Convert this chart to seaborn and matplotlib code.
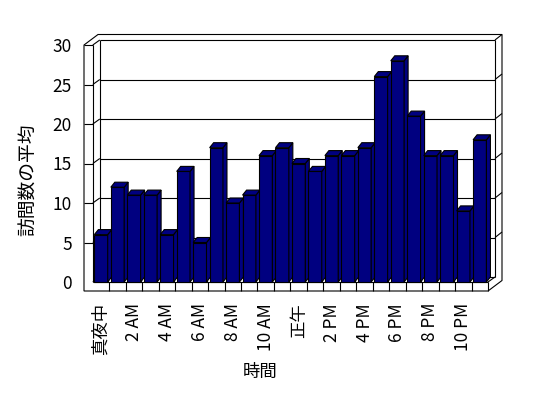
import matplotlib
matplotlib.use("Agg")
import matplotlib.pyplot as plt
import seaborn as sns
import pandas as pd
from matplotlib.patches import Polygon
from matplotlib.lines import Line2D

# ---- data ----
hours = ["真夜中", "1 AM", "2 AM", "3 AM", "4 AM", "5 AM", "6 AM", "7 AM",
         "8 AM", "9 AM", "10 AM", "11 AM", "正午", "1 PM", "2 PM", "3 PM",
         "4 PM", "5 PM", "6 PM", "7 PM", "8 PM", "9 PM", "10 PM", "11 PM"]
visits = [6, 12, 11, 11, 6, 14, 5, 17, 10, 11, 16, 17,
          15, 14, 16, 16, 17, 26, 28, 21, 16, 16, 9, 18]
yticks = [0, 5, 10, 15, 20, 25, 30]
xlabel = "時間"
ylabel = "訪問数の平均"

sns.set_theme(style="white")
plt.rcParams['font.family'] = ['Noto Sans CJK JP', 'DejaVu Sans']

W, H = 548, 398
fig = plt.figure(figsize=(W / 100, H / 100), dpi=100)
fig.patch.set_facecolor("white")

# axes box (pixels)
L, R, T, B = 84, 510, 30, 291
ax = fig.add_axes([L / W, 1 - B / H, (R - L) / W, (B - T) / H])
ax.set_facecolor("none")

df = pd.DataFrame({"hour": hours, "visits": visits})
navy = "#000080"
lw = 0.8
sns.barplot(data=df, x="hour", y="visits", order=hours, color=navy,
            saturation=1, width=0.81, edgecolor="black", linewidth=lw, ax=ax)
bars = list(ax.patches)

n = len(hours)
front_left_px, front_right_px, zero_px = 92.8, 488.0, 282.0
sx = (front_right_px - front_left_px) / n
sy = (zero_px - 45.0) / yticks[-1]
x0, x1 = -0.5, n - 0.5
ymax = yticks[-1]

tw = 8.8 / sx          # left wall thickness
tf = 9.0 / sy          # floor thickness
dxw, dyw = 7.0 / sx, 5.0 / sy     # depth to back wall face
dxo, dyo = 14.0 / sx, 10.5 / sy   # depth to outer back
dxb, dyb = 4.0 / sx, 5.0 / sy     # bar depth

ax.set_xlim(x0 - tw, x0 + (R - front_left_px) / sx)
ax.set_ylim(-(B - zero_px) / sy, (zero_px - T) / sy)

# ---- walls / floor ----
outer = Polygon([(x0 - tw, -tf), (x0 - tw, ymax), (x0 - tw + dxo, ymax + dyo),
                 (x1 + dxo, ymax + dyo), (x1 + dxo, -tf + dyo), (x1, -tf)],
                closed=True, facecolor="white", edgecolor="black", lw=lw,
                zorder=0.2, clip_on=False)
ax.add_patch(outer)

def seg(p, q):
    ax.add_line(Line2D([p[0], q[0]], [p[1], q[1]], color="black", lw=lw,
                       zorder=0.5, clip_on=False, solid_capstyle="butt"))

seg((x0, 0), (x0, ymax))
seg((x0 - tw, ymax), (x0, ymax))
seg((x0, 0), (x1, 0))
seg((x1, -tf), (x1, 0))
seg((x0, ymax), (x0 + dxw, ymax + dyw))
seg((x0, 0), (x0 + dxw, dyw))
seg((x1, 0), (x1 + dxw, dyw))
seg((x0 + dxw, dyw), (x0 + dxw, ymax + dyw))
seg((x1 + dxw, dyw), (x1 + dxw, ymax + dyw))
seg((x0 + dxw, ymax + dyw), (x1 + dxw, ymax + dyw))
seg((x0 + dxw, dyw), (x1 + dxw, dyw))
seg((x1 + dxw, ymax + dyw), (x1 + dxo, ymax + dyo))
for v in yticks[1:-1]:
    seg((x0 + dxw, v + dyw), (x1 + dxw, v + dyw))
    seg((x0, v), (x0 + dxw, v + dyw))
    seg((x0 - tw, v), (x0, v))
    seg((x1 + dxw, v + dyw), (x1 + dxo, v + dyo))
for k in range(1, n):
    seg((x0 + k, -tf), (x0 + k, 0))

# ---- 3D faces of bars ----
for i, p in enumerate(bars):
    bx, bw, bh = p.get_x(), p.get_width(), p.get_height()
    z = 2 + i * 0.01
    p.set_zorder(z)
    side = Polygon([(bx + bw, 0), (bx + bw + dxb, dyb), (bx + bw + dxb, bh + dyb),
                    (bx + bw, bh)], closed=True, facecolor=navy,
                   edgecolor="black", lw=lw, zorder=z + 0.001)
    top = Polygon([(bx, bh), (bx + dxb, bh + dyb), (bx + bw + dxb, bh + dyb),
                   (bx + bw, bh)], closed=True, facecolor=navy,
                  edgecolor="black", lw=lw, zorder=z + 0.002)
    ax.add_patch(side)
    ax.add_patch(top)

# ---- ticks & labels ----
for s in ax.spines.values():
    s.set_visible(False)
ax.grid(False)
ax.set_yticks(yticks)
ax.set_yticklabels([str(v) for v in yticks])
ax.set_xticks(list(range(0, n, 2)))
ax.set_xticklabels(hours[::2], rotation=90)
ax.tick_params(axis="both", length=0, pad=8.6, labelsize=12.5, colors="black")
ax.set_xlabel(xlabel, fontsize=12.5, color="black")
ax.set_ylabel(ylabel, fontsize=13.5, color="black")
ax.xaxis.set_label_coords((259.7 - L) / (R - L), (B - 372) / (B - T))
ax.xaxis.label.set_va("center")
ax.yaxis.set_label_coords((28.5 - L) / (R - L), (B - 180) / (B - T))
ax.yaxis.label.set_va("center")

fig.savefig("out.png", dpi=100, facecolor="white")
